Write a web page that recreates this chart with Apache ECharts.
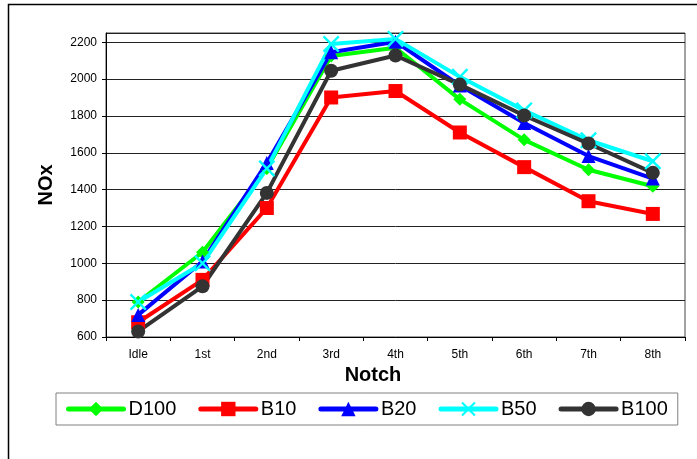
<!DOCTYPE html>
<html>
<head>
<meta charset="utf-8">
<script src="https://cdn.jsdelivr.net/npm/echarts@6/dist/echarts.min.js"></script>
<style>
html,body{margin:0;padding:0;background:#fff;}
#chart{width:697px;height:459px;}
</style>
</head>
<body>
<div id="chart"></div>
<script>
const categories = ['Idle', '1st', '2nd', '3rd', '4th', '5th', '6th', '7th', '8th'];
const D100 = [790, 1060, 1515, 2125, 2170, 1890, 1670, 1508, 1418];
const B10  = [680, 910, 1300, 1900, 1935, 1710, 1522, 1337, 1268];
const B20  = [720, 1010, 1545, 2146, 2203, 1965, 1762, 1582, 1460];
const B50  = [790, 1000, 1515, 2190, 2218, 2012, 1830, 1668, 1554];
const B100 = [630, 875, 1382, 2045, 2128, 1970, 1802, 1650, 1491];
const yTicks = { min: 600, max: 2250, interval: 200 };

const xShape = 'path://M1,0 L5,4 L9,0 L10,1 L6,5 L10,9 L9,10 L5,6 L1,10 L0,9 L4,5 L0,1 Z';

function mk(name, data, color, symbol, size) {
  return {
    name: name, type: 'line', data: data,
    symbol: symbol, symbolSize: size, symbolKeepAspect: true,
    lineStyle: { color: color, width: 4, cap: 'round' },
    itemStyle: { color: color },
    emphasis: { disabled: true },
    animation: false
  };
}

const chart = echarts.init(document.getElementById('chart'), null, { renderer: 'canvas' });
chart.setOption({
  backgroundColor: '#fff',
  textStyle: { fontFamily: 'Liberation Sans, Arial, sans-serif' },
  graphic: [{
    type: 'rect', left: 6, top: 2, silent: true, z: -10,
    shape: { width: 800, height: 600 },
    style: { fill: 'none', stroke: '#000', lineWidth: 1.5 }
  }],
  grid: {
    left: 106, top: 33, right: 12, bottom: 122,
    show: true, borderColor: '#444', borderWidth: 1, backgroundColor: 'transparent'
  },
  legend: {
    left: 56, top: 393,
    padding: [6, 10, 6, 10],
    borderColor: '#808080', borderWidth: 1,
    itemWidth: 55, itemHeight: 18, itemGap: 22,
    lineStyle: { width: 5, cap: 'round' },
    textStyle: { fontSize: 20, color: '#000', fontFamily: 'Liberation Sans, Arial, sans-serif' },
    data: ['D100', 'B10', 'B20', 'B50', 'B100']
  },
  xAxis: {
    type: 'category', data: categories, boundaryGap: true,
    name: 'Notch', nameLocation: 'middle', nameGap: 27,
    nameTextStyle: { fontSize: 20, fontWeight: 'bold', color: '#000', padding: [0, 45, 0, 0] },
    axisLine: { lineStyle: { color: '#000', width: 1 } },
    axisTick: { show: true, length: 4, lineStyle: { color: '#000' } },
    axisLabel: { fontSize: 12, color: '#000', margin: 12 },
    splitLine: { show: false }
  },
  yAxis: {
    type: 'value', min: yTicks.min, max: yTicks.max, interval: yTicks.interval,
    name: 'NOx', nameLocation: 'middle', nameGap: 50,
    nameTextStyle: { fontSize: 20, fontWeight: 'bold', color: '#000' },
    axisLine: { show: true, lineStyle: { color: '#000', width: 1 } },
    axisTick: { show: true, length: 4, lineStyle: { color: '#000' } },
    axisLabel: { fontSize: 12, color: '#000', margin: 9, showMaxLabel: false,
      formatter: function (v) { return String(v); } },
    splitLine: { show: true, lineStyle: { color: '#222', width: 1 } }
  },
  series: [
    mk('D100', D100, '#00FF00', 'diamond', 13),
    mk('B10', B10, '#FF0000', 'rect', 14),
    mk('B20', B20, '#0000FF', 'triangle', 14),
    mk('B50', B50, '#00FFFF', xShape, 17),
    mk('B100', B100, '#333333', 'circle', 14)
  ]
});
</script>
</body>
</html>
